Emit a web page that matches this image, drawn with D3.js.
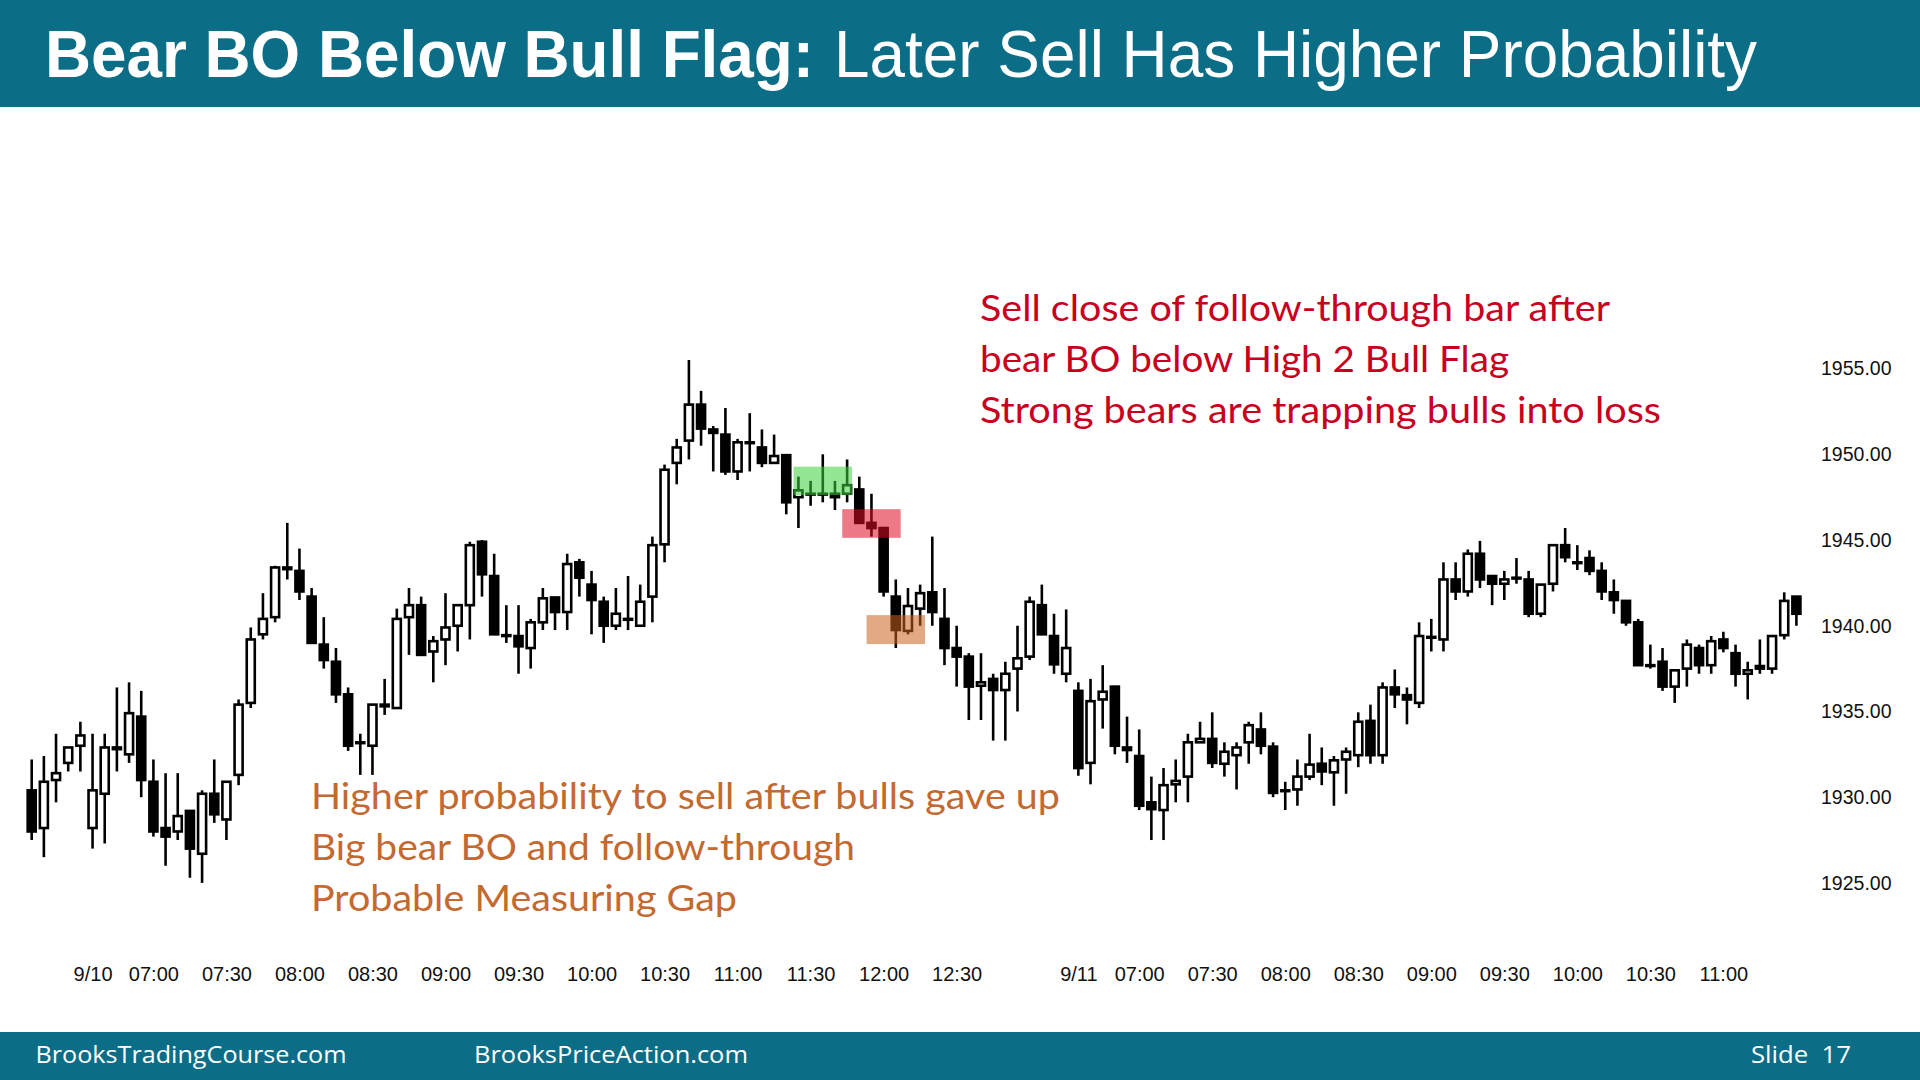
<!DOCTYPE html>
<html><head><meta charset="utf-8">
<script src="https://cdn.jsdelivr.net/npm/d3@7"></script>
<style>html,body{margin:0;padding:0;background:#fff;} svg{display:block}</style>
</head><body>
<svg id="chart" width="1920" height="1080"></svg>
<script>
// ---- DATA ----
const opens = [1930.4,1928.2,1931.0,1932.0,1933.0,1928.2,1930.2,1932.9,1932.5,1934.7,
1930.9,1928.2,1928.0,1929.2,1926.7,1930.2,1928.7,1931.3,1935.5,1939.5,
1940.5,1943.4,1943.2,1941.7,1938.9,1937.9,1936.0,1933.2,1933.0,1935.3,
1935.2,1940.5,1941.2,1938.5,1939.2,1940.0,1941.2,1944.9,1942.9,1939.45,
1939.4,1938.7,1940.2,1941.65,1940.8,1943.7,1942.4,1941.4,1940.0,1940.4,
1940.0,1941.7,1944.75,1949.5,1950.8,1952.9,1951.45,1951.15,1949.0,1950.7,
1950.4,1949.5,1949.95,1947.5,1947.7,1947.7,1947.7,1947.7,1947.95,1946.0,
1945.7,1941.7,1939.7,1941.0,1941.95,1940.4,1938.7,1938.2,1936.5,1936.9,
1936.25,1937.5,1938.2,1941.2,1939.4,1937.2,1936.2,1932.0,1935.7,1936.45,
1932.9,1932.4,1929.7,1929.25,1930.75,1931.2,1933.2,1933.4,1931.95,1932.45,
1933.2,1933.95,1932.95,1930.4,1930.45,1931.2,1931.95,1931.45,1932.2,1932.45,
1934.45,1932.45,1936.4,1935.95,1935.5,1939.35,1939.2,1942.7,1942.0,1944.2,
1942.9,1942.45,1942.8,1942.7,1940.7,1942.45,1944.7,1943.7,1943.95,1943.2,
1941.95,1941.45,1940.2,1937.7,1937.9,1936.45,1937.5,1938.7,1937.7,1939.2,
1938.4,1937.2,1937.5,1937.5,1939.45,1941.7];
const highs = [1932.2,1932.4,1933.7,1932.9,1934.4,1933.7,1933.7,1936.4,1936.7,1936.2,
1932.2,1931.4,1931.4,1929.2,1930.4,1932.2,1930.9,1935.7,1939.9,1941.9,
1943.5,1946.0,1944.5,1942.2,1940.5,1938.7,1936.4,1933.7,1935.4,1936.9,
1941.0,1942.2,1941.7,1939.4,1941.9,1941.2,1944.9,1945.0,1944.2,1941.2,
1941.2,1940.4,1942.2,1941.65,1944.2,1943.9,1943.2,1941.7,1942.2,1942.9,
1942.4,1945.2,1949.4,1950.9,1955.5,1953.7,1951.65,1952.7,1950.9,1952.4,
1951.45,1951.15,1950.0,1948.7,1948.45,1950.0,1948.45,1949.7,1948.7,1947.7,
1945.7,1942.7,1942.2,1942.4,1945.2,1942.2,1940.0,1938.4,1938.4,1937.2,
1937.9,1940.0,1941.7,1942.4,1940.7,1940.95,1936.7,1936.9,1937.7,1936.45,
1934.7,1933.95,1931.2,1931.7,1932.2,1933.7,1934.4,1934.95,1933.2,1933.2,
1934.4,1934.95,1933.2,1930.9,1932.2,1933.7,1932.9,1932.4,1932.9,1934.95,
1935.4,1936.7,1937.45,1936.4,1940.2,1940.4,1943.7,1943.7,1944.45,1944.95,
1942.9,1943.2,1943.95,1943.2,1942.4,1944.7,1945.7,1944.7,1944.4,1943.7,
1942.7,1941.45,1940.4,1938.9,1938.7,1937.4,1939.2,1938.9,1939.4,1939.65,
1938.9,1937.9,1939.2,1939.4,1941.95,1941.7];
const lows = [1927.5,1926.5,1929.7,1931.5,1931.5,1927.0,1927.3,1931.5,1932.0,1930.0,
1927.7,1926.0,1927.5,1925.3,1925.0,1928.5,1927.5,1930.7,1935.2,1939.2,
1940.2,1942.7,1941.5,1939.0,1937.5,1935.5,1932.7,1931.3,1931.3,1934.8,
1935.2,1938.3,1938.3,1936.7,1937.7,1938.5,1939.2,1941.7,1939.5,1939.0,
1937.2,1937.5,1939.75,1939.75,1939.75,1941.7,1939.5,1939.0,1939.75,1939.75,
1940.0,1940.2,1943.7,1948.25,1949.7,1950.5,1949.0,1948.8,1948.5,1949.0,
1949.25,1949.5,1946.5,1945.7,1947.0,1947.2,1946.75,1947.2,1946.0,1945.2,
1941.7,1938.7,1939.5,1940.0,1940.0,1937.7,1936.45,1934.5,1934.5,1933.3,
1933.3,1935.0,1938.0,1939.5,1937.2,1936.7,1931.25,1930.75,1934.0,1932.5,
1932.0,1929.25,1927.5,1927.5,1929.7,1929.7,1933.2,1931.7,1931.2,1930.45,
1931.95,1932.5,1930.0,1929.25,1929.5,1931.0,1930.7,1929.5,1930.2,1931.75,
1931.95,1931.95,1935.2,1934.25,1935.2,1938.5,1938.5,1941.5,1941.7,1942.2,
1941.2,1941.5,1942.45,1940.5,1940.5,1942.0,1943.7,1943.25,1942.95,1941.5,
1940.7,1940.0,1937.7,1937.5,1936.2,1935.5,1936.45,1937.2,1937.2,1938.45,
1936.45,1935.7,1937.2,1937.2,1939.2,1940.0];
const closes = [1928.0,1930.9,1931.4,1932.9,1933.6,1930.4,1932.9,1932.8,1934.9,1931.0,
1928.0,1927.7,1928.9,1927.0,1930.2,1929.0,1930.9,1935.4,1939.2,1940.4,
1943.4,1943.3,1942.0,1939.0,1938.0,1936.0,1933.0,1933.2,1935.4,1935.4,
1940.4,1941.2,1938.3,1939.1,1939.9,1941.2,1944.7,1943.0,1939.5,1939.4,
1938.8,1940.2,1941.6,1940.8,1943.6,1942.8,1941.5,1940.0,1940.7,1940.35,
1941.4,1944.7,1949.1,1950.4,1952.9,1951.5,1951.25,1949.0,1950.7,1950.7,
1949.5,1949.9,1947.2,1947.9,1947.7,1947.7,1947.5,1948.2,1946.0,1945.7,
1942.0,1939.75,1941.15,1941.9,1940.8,1938.7,1938.2,1936.45,1936.7,1936.25,
1937.2,1938.1,1941.4,1939.5,1937.75,1938.7,1931.7,1935.6,1936.15,1933.0,
1932.75,1929.5,1929.3,1930.7,1930.95,1933.2,1933.4,1932.0,1932.65,1932.9,
1934.2,1933.0,1930.25,1930.4,1931.2,1931.9,1931.5,1932.15,1932.65,1934.4,
1932.45,1936.4,1936.0,1935.7,1939.4,1939.3,1942.7,1942.0,1944.2,1942.7,
1942.45,1942.7,1942.8,1940.7,1942.4,1944.7,1944.0,1943.7,1943.2,1942.0,
1941.5,1940.2,1937.7,1937.7,1936.45,1937.4,1938.9,1937.7,1939.1,1938.7,
1937.2,1937.4,1937.65,1939.4,1941.45,1940.7];

const timeTickBars = [5,10,16,22,28,34,40,46,52,58,64,70,76,86,91,97,103,109,115,121,127,133,139];
const timeTickLabels = ["9/10","07:00","07:30","08:00","08:30","09:00","09:30","10:00","10:30","11:00","11:30","12:00","12:30",
                        "9/11","07:00","07:30","08:00","08:30","09:00","09:30","10:00","10:30","11:00"];
const priceTicks = [1925,1930,1935,1940,1945,1950,1955];

// highlight zones: [first bar, last bar, low price, high price]
const greenZone = [63, 67, 1947.63, 1949.28];
const redZone = [67, 71, 1945.13, 1946.8];
const orangeZone = [69, 73, 1938.93, 1940.62];

const titleBold = "Bear BO Below Bull Flag:";
const titleRegular = "Later Sell Has Higher Probability";
const redLines = ["Sell close of follow-through bar after","bear BO below High 2 Bull Flag","Strong bears are trapping bulls into loss"];
const orangeLines = ["Higher probability to sell after bulls gave up","Big bear BO and follow-through","Probable Measuring Gap"];
const footerLeft = "BrooksTradingCourse.com";
const footerMid = "BrooksPriceAction.com";
const footerRight = "Slide  17";

// ---- DRAW ----
const svg = d3.select("#chart");
const teal = "#0c6d86";
svg.append("rect").attr("width",1920).attr("height",1080).attr("fill","#fff");
svg.append("rect").attr("x",0).attr("y",0).attr("width",1920).attr("height",107).attr("fill",teal);
svg.append("rect").attr("x",0).attr("y",1032).attr("width",1920).attr("height",48).attr("fill",teal);

svg.append("text").attr("x",45).attr("y",77).attr("fill","#fff")
  .attr("font-family","'Liberation Sans', Arial, sans-serif").attr("font-weight","bold").attr("font-size",66)
  .attr("textLength",769).attr("lengthAdjust","spacingAndGlyphs").text(titleBold);
svg.append("text").attr("x",834).attr("y",77).attr("fill","#fff")
  .attr("font-family","'Liberation Sans', Arial, sans-serif").attr("font-size",66)
  .attr("textLength",923).attr("lengthAdjust","spacingAndGlyphs").text(titleRegular);

const foot = [[footerLeft,35.5,311],[footerMid,474,274],[footerRight,1751,100]];
svg.selectAll("text.foot").data(foot).enter().append("text").attr("class","foot")
  .attr("x",d=>d[1]).attr("y",1063).attr("fill","#fff")
  .style("white-space","pre")
  .attr("font-family","'Open Sans', 'Noto Sans', sans-serif").attr("font-size",23)
  .attr("textLength",d=>d[2]).attr("lengthAdjust","spacingAndGlyphs").text(d=>d[0]);

const n = opens.length;
const bars = d3.range(n).map(i=>({i, o:opens[i], h:highs[i], l:lows[i], c:closes[i]}));
const x = d3.scalePoint().domain(d3.range(n)).range([31.7, 1796.4]);
const step = x.step();
const y = d3.scaleLinear().domain([1925,1955]).range([882.9, 368.6]);

// axes
const yAxis = d3.axisRight(y).tickValues(priceTicks).tickFormat(d3.format(".2f")).tickSize(0).tickPadding(6);
const gy = svg.append("g").attr("transform","translate(1815,0)").call(yAxis);
gy.select(".domain").remove();
gy.selectAll("text").attr("font-family","'Liberation Sans', Arial, sans-serif").attr("font-size",19.5).attr("fill","#111");

const labelMap = new Map(timeTickBars.map((b,k)=>[b,timeTickLabels[k]]));
const xAxis = d3.axisBottom(x).tickValues(timeTickBars).tickFormat(b=>labelMap.get(b)).tickSize(0).tickPadding(3);
const gx = svg.append("g").attr("transform","translate(0,963.5)").call(xAxis);
gx.select(".domain").remove();
gx.selectAll("text").attr("font-family","'Liberation Sans', Arial, sans-serif").attr("font-size",20).attr("fill","#111");

// candles
const bodyW = step*0.66;
const g = svg.append("g");
g.selectAll("line.wick").data(bars).enter().append("line").attr("class","wick")
  .attr("x1",d=>x(d.i)).attr("x2",d=>x(d.i)).attr("y1",d=>y(d.h)).attr("y2",d=>y(d.l))
  .attr("stroke","#000").attr("stroke-width",2.6);
g.selectAll("rect.body").data(bars).enter().append("rect").attr("class","body")
  .attr("x",d=>x(d.i)-bodyW/2).attr("width",bodyW)
  .attr("y",d=>y(Math.max(d.o,d.c)))
  .attr("height",d=>Math.max(0.8, Math.abs(y(d.o)-y(d.c))))
  .attr("fill",d=>d.c>d.o ? "#fff" : "#000")
  .attr("stroke","#000").attr("stroke-width",2.6);

// highlight zones
function zone(z, color, op){
  svg.append("rect")
    .attr("x", x(z[0]) - step*0.4).attr("width", x(z[1]) - x(z[0]) + step*0.8)
    .attr("y", y(z[3])).attr("height", y(z[2]) - y(z[3]))
    .attr("fill", color).attr("fill-opacity", op);
}
zone(greenZone, "rgb(60,210,60)", 0.55);
zone(redZone, "rgb(222,10,35)", 0.55);
zone(orangeZone, "rgb(200,100,30)", 0.55);

// annotations
const redW = [630,529,681], redY = [320.8,372.2,422.5];
svg.selectAll("text.red").data(redLines).enter().append("text").attr("class","red")
  .attr("x",980).attr("y",(d,k)=>redY[k]).attr("fill","#c8001e")
  .attr("font-family","Lato, 'Open Sans', sans-serif").attr("font-size",36)
  .attr("textLength",(d,k)=>redW[k]).attr("lengthAdjust","spacingAndGlyphs").text(d=>d);
const orW = [749,544,426], orY = [809.4,859.6,911];
svg.selectAll("text.orange").data(orangeLines).enter().append("text").attr("class","orange")
  .attr("x",311).attr("y",(d,k)=>orY[k]).attr("fill","#c4692f")
  .attr("font-family","Lato, 'Open Sans', sans-serif").attr("font-size",36)
  .attr("textLength",(d,k)=>orW[k]).attr("lengthAdjust","spacingAndGlyphs").text(d=>d);
</script>
</body></html>
